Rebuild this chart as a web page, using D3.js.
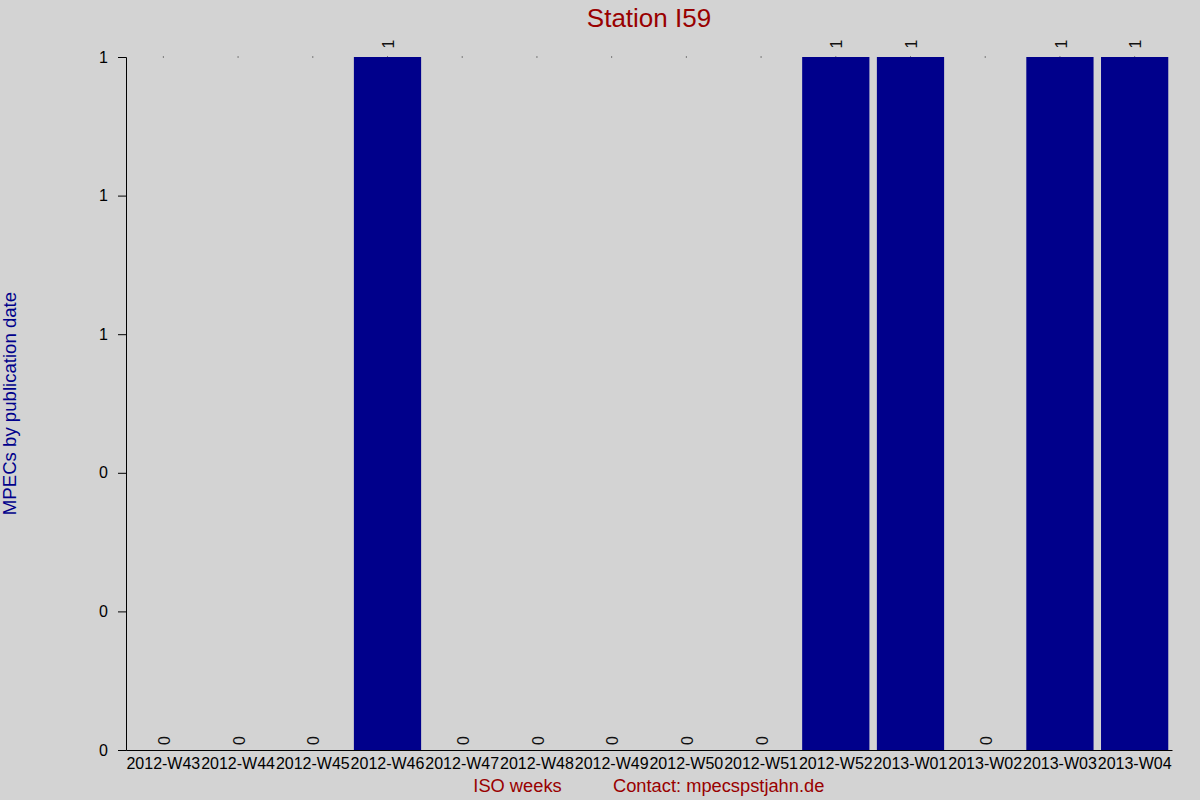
<!DOCTYPE html>
<html>
<head>
<meta charset="utf-8">
<script src="https://cdn.jsdelivr.net/npm/d3@7"></script>
<style>
  body { margin: 0; background: #d3d3d3; }
  svg { display: block; font-family: "Liberation Sans", Arial, sans-serif; }
</style>
</head>
<body>
<svg width="1200" height="800"></svg>
<script>
  const weeks = ['2012-W43', '2012-W44', '2012-W45', '2012-W46', '2012-W47', '2012-W48', '2012-W49',
    '2012-W50', '2012-W51', '2012-W52', '2013-W01', '2013-W02', '2013-W03', '2013-W04'];
  const counts = [0, 0, 0, 1, 0, 0, 0, 0, 0, 1, 1, 0, 1, 1];

  const titleText = 'Station I59';
  const yAxisLabelText = 'MPECs by publication date';
  const xAxisLabelText = 'ISO weeks';
  const contactText = 'Contact: mpecspstjahn.de';

  const svg = d3.select('svg');
  const width = +svg.attr('width');
  const height = +svg.attr('height');

  const data = weeks.map((w, i) => ({ week: w, count: counts[i] }));

  const margin = { top: 57, right: 28, bottom: 50, left: 126 };
  const innerWidth = width - margin.left - margin.right;
  const innerHeight = height - margin.top - margin.bottom;

  svg.append('rect')
    .attr('width', width)
    .attr('height', height)
    .attr('fill', '#d3d3d3');

  const xScale = d3.scaleBand()
    .domain(data.map(d => d.week))
    .range([0, innerWidth])
    .paddingInner(0.1)
    .paddingOuter(0.05);

  const yScale = d3.scaleLinear()
    .domain([0, d3.max(data, d => d.count)])
    .range([innerHeight, 0]);

  const g = svg.append('g')
    .attr('transform', `translate(${margin.left},${margin.top})`);

  // tiny marks at the top of every band (visible where there is no bar)
  g.selectAll('.dot').data(data)
    .enter().append('rect')
      .attr('class', 'dot')
      .attr('x', d => xScale(d.week) + xScale.bandwidth() / 2 - 0.5)
      .attr('y', yScale(1) - 0.5)
      .attr('width', 1)
      .attr('height', 1)
      .attr('fill', '#222');

  g.selectAll('.bar').data(data)
    .enter().append('rect')
      .attr('class', 'bar')
      .attr('x', d => xScale(d.week))
      .attr('y', d => yScale(d.count))
      .attr('width', xScale.bandwidth())
      .attr('height', d => innerHeight - yScale(d.count))
      .attr('fill', '#00008b');

  // value labels, rotated
  g.selectAll('.val').data(data)
    .enter().append('text')
      .attr('class', 'val')
      .attr('transform', d => `translate(${xScale(d.week) + xScale.bandwidth() / 2 + 1},${yScale(d.count * 1.005) - 5}) rotate(-90)`)
      .attr('dy', '0.35em')
      .attr('font-size', 16)
      .attr('fill', '#111')
      .text(d => d.count);

  const yAxis = d3.axisLeft(yScale)
    .ticks(5)
    .tickFormat(d3.format('.0f'))
    .tickSize(8)
    .tickPadding(10);

  const yAxisG = g.append('g').call(yAxis);
  yAxisG.selectAll('text').attr('font-size', 16).attr('fill', '#000').attr('font-family', null);
  yAxisG.selectAll('line, path').attr('stroke', '#000');

  const xAxisG = g.append('g')
    .attr('transform', `translate(0,${innerHeight})`)
    .call(d3.axisBottom(xScale).tickSize(0).tickSizeOuter(0).tickPadding(8));
  xAxisG.selectAll('text').attr('font-size', 16).attr('fill', '#000').attr('font-family', null);
  xAxisG.select('.domain').attr('stroke', '#000');

  svg.append('text')
    .attr('x', margin.left + innerWidth / 2)
    .attr('y', 27)
    .attr('text-anchor', 'middle')
    .attr('font-size', 26)
    .attr('fill', '#990000')
    .text(titleText);

  svg.append('text')
    .attr('transform', `translate(15.7,${margin.top + innerHeight / 2}) rotate(-90)`)
    .attr('text-anchor', 'middle')
    .attr('font-size', 18.6)
    .attr('fill', '#00008b')
    .text(yAxisLabelText);

  svg.append('text')
    .attr('x', 517.5)
    .attr('y', 791.5)
    .attr('text-anchor', 'middle')
    .attr('font-size', 18.3)
    .attr('fill', '#990000')
    .text(xAxisLabelText);

  svg.append('text')
    .attr('x', 613)
    .attr('y', 791.5)
    .attr('font-size', 18.3)
    .attr('fill', '#990000')
    .text(contactText);
</script>
</body>
</html>
